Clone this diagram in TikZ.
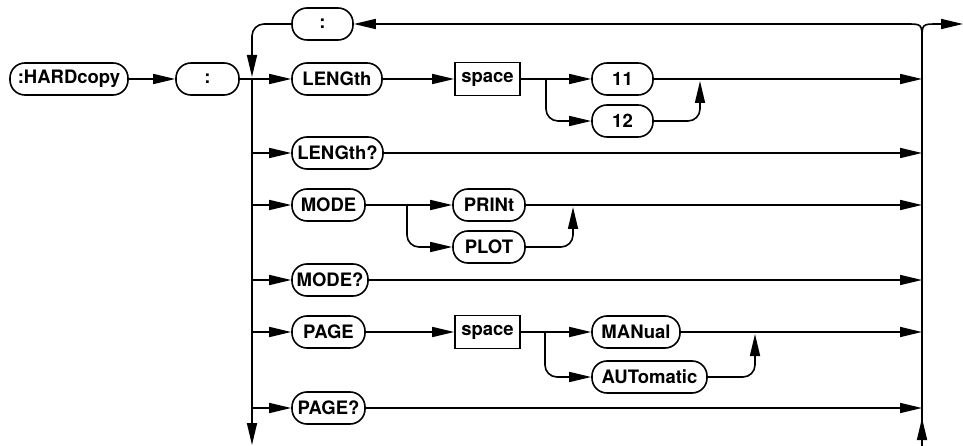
\documentclass[tikz,border=0pt]{standalone}
\usepackage{fontspec}
\setmainfont{TeX Gyre Heros}
\usetikzlibrary{arrows.meta}
\begin{document}
\begin{tikzpicture}[x=1pt,y=-1pt,line width=1.6pt,
  txt/.style={font=\fontsize{18.5}{20}\selectfont\bfseries},
  kw/.style={txt,draw,rounded corners=15pt,minimum height=32pt,inner sep=0pt},
  sbox/.style={txt,draw,minimum height=33pt,minimum width=65pt,inner sep=0pt},
  arr/.style={-{Triangle[length=22pt,width=10pt]}},
  rc/.style={rounded corners=12pt}]
\useasboundingbox (0,0) rectangle (963,446);
% nodes
\node[kw,minimum width=118pt] (hard) at (69,79) {:HARDcopy};
\node[kw,minimum width=63pt] (col) at (207.5,79) {:};
\node[kw,minimum width=61pt] (ctop) at (322.5,24) {:};
\node[kw,minimum width=90pt] (len) at (337,79) {LENGth};
\node[sbox] (sp1) at (487.5,79) {space};
\node[kw,minimum width=61pt] (n11) at (622.5,79) {11};
\node[kw,minimum width=61pt] (n12) at (622.5,121) {12};
\node[kw,minimum width=91pt] (lenq) at (337.5,153) {LENGth?};
\node[kw,minimum width=73pt] (mode) at (328.5,205) {MODE};
\node[kw,minimum width=72pt] (print) at (489,205) {PRINt};
\node[kw,minimum width=72pt] (plot) at (489,247) {PLOT};
\node[kw,minimum width=76pt] (modeq) at (330,280) {MODE?};
\node[kw,minimum width=73pt] (page) at (328.5,332) {PAGE};
\node[sbox] (sp2) at (487.5,332) {space};
\node[kw,minimum width=88pt] (man) at (636,332) {MANual};
\node[kw,minimum width=115pt] (auto) at (649.5,377) {AUTomatic};
\node[kw,minimum width=73pt] (pageq) at (328.5,408) {PAGE?};
% coordinates
\coordinate (lj) at (252,77);
\coordinate (lbot) at (252,445);
\coordinate (b1) at (546,79);
\coordinate (m1) at (700,81);
\coordinate (b2) at (407,205);
\coordinate (m2) at (573,207);
\coordinate (b3) at (545,332);
\coordinate (m3) at (755,334);
\coordinate (rtop) at (922,40);
\coordinate (rbot) at (922,446);
\coordinate (rup) at (922,418);
\coordinate (exit) at (963,24);
\foreach \y/\n in {79/1,153/2,205/3,280/4,332/5,408/6} {\coordinate (r\n) at (922,\y);}
\foreach \y/\n in {153/2,205/3,280/4,332/5,408/6} {\coordinate (l\n) at (252,\y);}
% connectors
\draw[arr] (hard) -- (col);
\draw[arr] (col) -- (len);
\draw[arr,rc] (ctop.west) -| (lj);
\draw[arr] (252,79) -- (lbot);
\draw[arr] (l2) -- (lenq);
\draw[arr] (l3) -- (mode);
\draw[arr] (l4) -- (modeq);
\draw[arr] (l5) -- (page);
\draw[arr] (l6) -- (pageq);
% LENGth row
\draw[arr] (len) -- (sp1);
\draw[arr] (sp1) -- (n11);
\draw[arr,rc] (b1) |- (n12.west);
\draw[arr,rc] (n12.east) -| (m1);
\draw[arr] (n11) -- (r1);
\draw[arr] (lenq) -- (r2);
% MODE row
\draw[arr] (mode) -- (print);
\draw[arr,rc] (b2) |- (plot.west);
\draw[arr,rc] (plot.east) -| (m2);
\draw[arr] (print) -- (r3);
\draw[arr] (modeq) -- (r4);
% PAGE row
\draw[arr] (page) -- (sp2);
\draw[arr] (sp2) -- (man);
\draw[arr,rc] (b3) |- (auto.west);
\draw[arr,rc] (auto.east) -| (m3);
\draw[arr] (man) -- (r5);
\draw[arr] (pageq) -- (r6);
% right bus
\draw (rbot) -- (rtop);
\draw[arr] (rbot) -- (rup);
\draw[arr] (rtop) .. controls (922,24) .. (906,24) -- (ctop.east);
\draw[arr] (rtop) .. controls (922,24) .. (938,24) -- (exit);
\end{tikzpicture}
\end{document}
